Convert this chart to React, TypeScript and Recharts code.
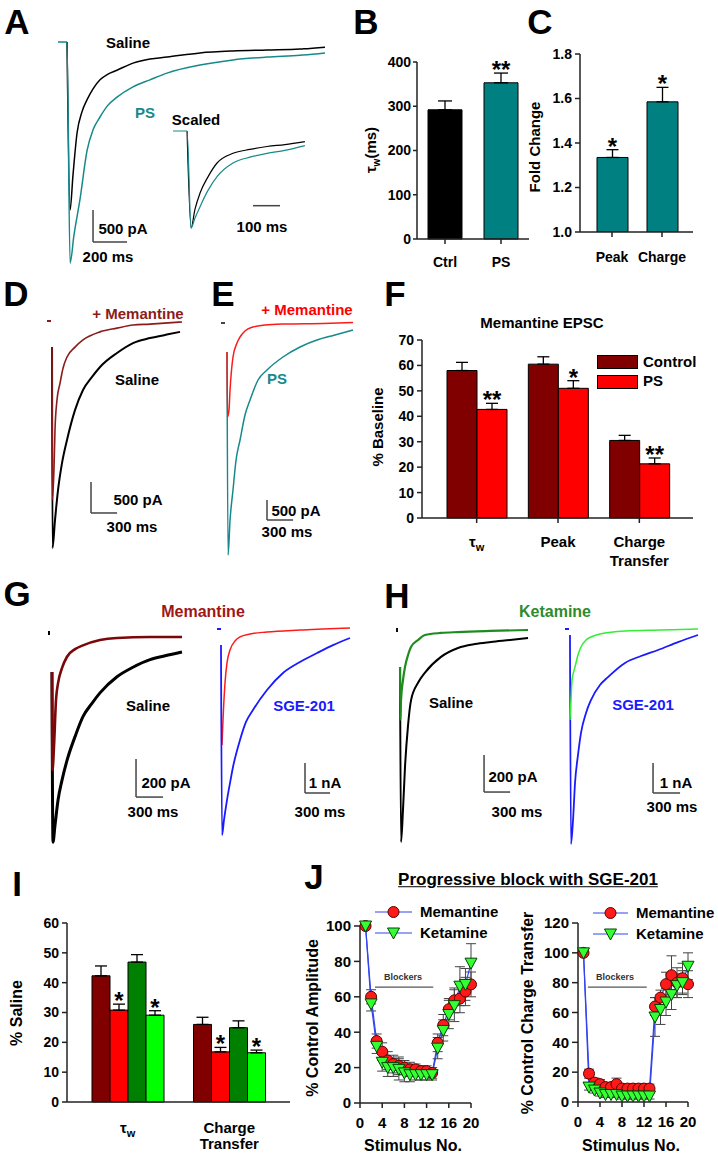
import React from "react";
import {
  BarChart, Bar, LineChart, Line, XAxis, YAxis, ErrorBar, LabelList,
  ReferenceLine, Cell
} from "recharts";

const FONT = '"Liberation Sans", Arial, Helvetica, sans-serif';

const TEAL = "#17898a";
const TEAL_BAR = "#008080";
const MAROON = "#800000";
const RED = "#ff0000";
const GREEN = "#008000";
const LIME = "#00ff00";
const BLUE = "#1a1aff";
const LINE_BLUE = "#3344ee";
const AXIS = "#222";

type Pt = [number, number];

// ---- B: weighted tau
const bCats = ["Ctrl", "PS"];
const bTau = [292, 353];
const bTauErr = [20, 22];
const bSig = ["", "**"];

// ---- C: fold change
const cCats = ["Peak", "Charge"];
const cFold = [1.335, 1.585];
const cFoldErr = [0.035, 0.065];
const cSig = ["*", "*"];

// ---- F: memantine EPSC, % baseline
const fCats = ["tau", "Peak", "Charge"];
const fControl = [58, 60.5, 30.5];
const fControlErr = [3.2, 2.9, 2.0];
const fPS = [42.7, 51, 21.3];
const fPSErr = [2.4, 3.0, 2.3];
const fSig = ["**", "*", "**"];

// ---- I: % saline
const iCats = ["tau", "Charge"];
const iMemSaline = [42.3, 26.0];
const iMemSalineErr = [3.3, 2.4];
const iMemSGE = [30.8, 16.8];
const iMemSGEErr = [2.0, 1.5];
const iKetSaline = [46.9, 24.9];
const iKetSalineErr = [2.5, 2.3];
const iKetSGE = [29.1, 16.5];
const iKetSGEErr = [1.5, 0.9];
const iSig = ["*", "*"];

// ---- J: progressive block
const stimNo = [1, 2, 3, 4, 5, 6, 7, 8, 9, 10, 11, 12, 13, 14, 15, 16, 17, 18, 19, 20];
const jAmpMem = [100, 60, 35, 29, 24, 22, 21, 20, 19, 19, 18, 18, 17, 34, 44, 53, 58, 59, 63, 67];
const jAmpMemErr = [0, 4, 4, 5, 5, 5, 5, 4, 4, 3, 3, 3, 3, 5, 6, 6, 7, 8, 8, 7];
const jAmpKet = [100, 56, 32, 23, 20, 20, 19, 17, 16, 16, 16, 16, 16, 31, 41, 50, 55, 66, 67, 79];
const jAmpKetErr = [0, 4, 4, 5, 5, 5, 6, 5, 4, 3, 3, 3, 3, 6, 6, 8, 9, 11, 9, 11];
const jChgMem = [100, 19, 13, 12, 10, 10, 12, 9, 9, 9, 9, 9, 9, 64, 70, 79, 85, 80, 83, 79];
const jChgMemErr = [0, 3, 3, 3, 3, 3, 4, 3, 3, 3, 3, 3, 3, 6, 5, 8, 13, 10, 10, 9];
const jChgKet = [100, 10, 8, 6, 5, 5, 5, 4, 4, 4, 4, 4, 4, 57, 62, 67, 72, 78, 80, 91];
const jChgKetErr = [0, 2, 2, 2, 2, 2, 2, 2, 2, 2, 2, 2, 2, 13, 10, 9, 10, 8, 8, 9];

// ---- traces, [ms, pA] (A inset in % of peak)
const aSaline: Pt[] = [[53, 0], [71, -2620], [88, -2080], [112, -1420], [141, -1090], [171, -900], [206, -730], [247, -590], [294, -500], [347, -440], [441, -330], [541, -265], [641, -235], [835, -170], [1029, -140], [1229, -125], [1423, -110], [1570, -80]];
const aPS: Pt[] = [[0, 0], [53, 0], [71, -3450], [94, -3010], [129, -2460], [171, -1690], [206, -1370], [247, -1170], [294, -985], [347, -860], [441, -700], [541, -590], [641, -485], [835, -360], [1029, -280], [1229, -235], [1423, -205], [1570, -170]];
const aSalineScaled: Pt[] = [[52, 0], [67, -100], [81, -81], [100, -64], [130, -47], [163, -33], [222, -23], [285, -19], [348, -16], [414, -14], [488, -11]];
const aPSScaled: Pt[] = [[0, 0], [52, 0], [67, -100], [81, -90], [100, -78], [130, -61], [163, -47], [222, -33], [285, -27], [348, -23], [414, -20], [488, -15]];

const dStim: Pt[] = [[-23, 0], [23, 0]];
const dMem: Pt[] = [[35, -420], [40, -2880], [58, -2350], [69, -1755], [92, -1270], [127, -1000], [161, -760], [207, -580], [299, -420], [391, -305], [587, -175], [782, -115], [966, -65], [1162, -50], [1530, -15]];
const dSaline: Pt[] = [[35, -420], [40, -3655], [69, -3205], [104, -2720], [150, -2285], [207, -1915], [299, -1435], [391, -1110], [495, -900], [587, -740], [782, -515], [966, -355], [1162, -275], [1334, -225], [1507, -175]];

const eStim: Pt[] = [[-23, 0], [23, 0]];
const eMem: Pt[] = [[46, -725], [52, -2350], [69, -2175], [81, -1675], [98, -1175], [115, -850], [161, -500], [196, -350], [253, -200], [345, -100], [483, -50], [690, -25], [1150, -10], [1495, 10]];
const ePS: Pt[] = [[46, -725], [58, -5800], [81, -4925], [115, -4175], [150, -3425], [196, -2925], [253, -2300], [311, -1925], [403, -1425], [506, -1175], [690, -850], [886, -600], [1081, -425], [1288, -300], [1495, -175]];

const gStim: Pt[] = [[-11, 0], [11, 0]];
const gMem: Pt[] = [[33, -205], [39, -720], [56, -590], [78, -350], [100, -265], [144, -185], [200, -125], [289, -85], [377, -65], [566, -37], [755, -26], [1121, -21], [1476, -21]];
const gSaline: Pt[] = [[33, -205], [44, -1100], [67, -1010], [100, -880], [144, -775], [200, -670], [289, -545], [377, -440], [477, -370], [566, -315], [755, -230], [932, -180], [1121, -140], [1288, -120], [1476, -100]];
const gSgeStim: Pt[] = [[-24, 0], [24, 0]];
const gSgeMem: Pt[] = [[36, -3865], [48, -3030], [72, -1800], [96, -1130], [132, -700], [192, -400], [252, -265], [372, -165], [576, -100], [972, -35], [1572, 35]];
const gSge: Pt[] = [[24, -535], [36, -6860], [60, -6360], [96, -5695], [132, -5130], [168, -4595], [252, -3695], [324, -3095], [408, -2695], [576, -2030], [768, -1465], [972, -1100], [1176, -800], [1368, -535], [1572, -300]];

const hStim: Pt[] = [[-11, 0], [11, 0]];
const hKet: Pt[] = [[35, -200], [40, -485], [46, -380], [69, -270], [92, -200], [127, -135], [161, -92], [242, -54], [322, -27], [506, -16], [702, -11], [1070, -5], [1507, 0]];
const hSaline: Pt[] = [[35, -200], [46, -1145], [69, -970], [92, -740], [127, -515], [161, -380], [242, -285], [322, -230], [506, -145], [702, -97], [897, -76], [1081, -65], [1300, -54], [1507, -43]];
const hSgeStim: Pt[] = [[-22, 0], [22, 0]];
const hSgeKet: Pt[] = [[33, -3030], [44, -2365], [56, -1700], [89, -1265], [122, -865], [155, -600], [211, -365], [266, -265], [366, -165], [644, -65], [1032, -35], [1454, 0]];
const hSge: Pt[] = [[33, -200], [44, -7160], [67, -6360], [89, -5130], [122, -4195], [155, -3465], [211, -2795], [266, -2365], [366, -1865], [455, -1600], [644, -1130], [821, -900], [1010, -700], [1232, -435], [1454, -200]];

// ---------- helpers
function Txt({ x, y, children, color = "#000", size = 15, rotate = 0, left = false, style = {} }: any) {
  const tr = left ? "translate(0,-50%)" : "translate(-50%,-50%)";
  return (
    <div style={{
      position: "absolute", left: x, top: y, color, fontSize: size, fontWeight: 700,
      whiteSpace: "nowrap", lineHeight: 1.15, transform: tr + (rotate ? ` rotate(${rotate}deg)` : ""),
      ...style,
    }}>{children}</div>
  );
}

function Letter({ x, y, c }: any) {
  return <Txt x={x} y={y} size={35}>{c}</Txt>;
}

function TracePanel({ box, origin, msPx, unitPx, traces, bar }: any) {
  const [l, t, w, h] = box;
  const xDom = [(l - origin[0]) * msPx, (l + w - origin[0]) * msPx];
  const yDom = [-(t + h - origin[1]) * unitPx, -(t - origin[1]) * unitPx];
  return (
    <div style={{ position: "absolute", left: l, top: t }}>
      <LineChart width={w} height={h} margin={{ top: 0, right: 0, bottom: 0, left: 0 }}>
        <XAxis type="number" dataKey="t" domain={xDom} hide allowDataOverflow />
        <YAxis type="number" domain={yDom} hide allowDataOverflow />
        {traces.map((tr: any, k: number) => (
          <Line key={k} data={tr.pts.map(([a, b]: Pt) => ({ t: a, v: b }))} dataKey="v"
            type="monotone" stroke={tr.color} strokeWidth={tr.w ?? 1.5} dot={false}
            isAnimationActive={false} />
        ))}
        {bar && bar.di !== 0 && (
          <ReferenceLine segment={[{ x: bar.t, y: bar.i }, { x: bar.t, y: bar.i + bar.di }]} stroke="#444" strokeWidth={1.5} />
        )}
        {bar && (
          <ReferenceLine segment={[{ x: bar.t, y: bar.i }, { x: bar.t + bar.dt, y: bar.i }]} stroke="#444" strokeWidth={1.5} />
        )}
      </LineChart>
    </div>
  );
}

function margins(box: number[], plot: number[], yW = 40, xH = 30) {
  return {
    left: plot[0] - box[0] - yW,
    top: plot[1] - box[1],
    right: box[0] + box[2] - plot[2],
    bottom: box[1] + box[3] - plot[3] - xH,
  };
}

function starContent(sig: string[], err: number[], pxPerUnit: number) {
  return (props: any) => {
    const vb = props.viewBox && props.viewBox.width != null ? props.viewBox : props;
    const idx = props.index;
    const s = sig[idx];
    if (!s) return null;
    const top = Number(vb.y) - err[idx] * pxPerUnit;
    return (
      <text x={Number(vb.x) + Number(vb.width) / 2} y={top + 5} textAnchor="middle"
        fontSize={24} fontWeight={700} fontFamily={FONT} fill="#000">{s}</text>
    );
  };
}

const tickFont = { fontSize: 14, fontWeight: 700, fill: "#000", fontFamily: FONT };
const axisLine = { stroke: AXIS, strokeWidth: 1.5 };

function GroupTick({ x, y, payload, off, gap }: any) {
  const v = payload.value;
  if (v === "tau") {
    return (
      <text x={x} y={y + off} textAnchor="middle" fontSize={15} fontWeight={700} fontFamily={FONT} fill="#000">
        <tspan>τ</tspan><tspan fontSize={11} dy={4}>w</tspan>
      </text>
    );
  }
  const lines = v === "Charge" ? ["Charge", "Transfer"] : [v];
  return (
    <text x={x} y={y + off} textAnchor="middle" fontSize={15} fontWeight={700} fontFamily={FONT} fill="#000">
      {lines.map((s, k) => <tspan key={k} x={x} dy={k === 0 ? 0 : gap}>{s}</tspan>)}
    </text>
  );
}

const circleDot = (p: any) => {
  if (p.cx == null || p.cy == null) return <g key={p.index} />;
  return <circle key={p.index} cx={p.cx} cy={p.cy} r={5.5} fill="#ff1a1a" stroke="#5a0000" strokeWidth={1} />;
};
const triDot = (p: any) => {
  if (p.cx == null || p.cy == null) return <g key={p.index} />;
  const { cx, cy } = p;
  return <polygon key={p.index} points={`${cx - 6},${cy - 5} ${cx + 6},${cy - 5} ${cx},${cy + 6}`} fill="#33ff33" stroke="#004400" strokeWidth={1} />;
};

function JLegend({ x0, x1, y }: any) {
  const mid = (x0 + x1) / 2;
  return (
    <>
      <svg style={{ position: "absolute", left: 0, top: 0, pointerEvents: "none" }} width={718} height={1155}>
        <line x1={x0} y1={y} x2={x1} y2={y} stroke={LINE_BLUE} strokeWidth={1.2} />
        <circle cx={mid} cy={y} r={5.5} fill="#ff1a1a" stroke="#5a0000" />
        <line x1={x0} y1={y + 21} x2={x1} y2={y + 21} stroke={LINE_BLUE} strokeWidth={1.2} />
        <polygon points={`${mid - 6},${y + 16} ${mid + 6},${y + 16} ${mid},${y + 27}`} fill="#33ff33" stroke="#004400" />
      </svg>
      <Txt x={x1 + 8} y={y} left>Memantine</Txt>
      <Txt x={x1 + 8} y={y + 21} left>Ketamine</Txt>
    </>
  );
}

export default function App() {
  // B
  const bBox = [365, 40, 170, 240];
  const bPlot = [417, 62, 529, 239];
  const bRows = bCats.map((c, k) => ({ cat: c, v: bTau[k], e: [0, bTauErr[k]] }));
  // C
  const cBox = [540, 35, 160, 245];
  const cPlot = [580, 54, 693, 232];
  const cRows = cCats.map((c, k) => ({ cat: c, v: cFold[k], e: [0, cFoldErr[k]] }));
  // F
  const fBox = [375, 330, 325, 245];
  const fPlot = [422, 340, 693, 518];
  const fRows = fCats.map((c, k) => ({
    cat: c, ctrl: fControl[k], ctrlE: [0, fControlErr[k]], ps: fPS[k], psE: [0, fPSErr[k]],
  }));
  // I
  const iBox = [20, 905, 280, 250];
  const iPlot = [67, 923, 290, 1102];
  const iRows = iCats.map((c, k) => ({
    cat: c,
    ms: iMemSaline[k], msE: [0, iMemSalineErr[k]],
    mg: iMemSGE[k], mgE: [0, iMemSGEErr[k]],
    ks: iKetSaline[k], ksE: [0, iKetSalineErr[k]],
    kg: iKetSGE[k], kgE: [0, iKetSGEErr[k]],
  }));
  const iPx = (iPlot[3] - iPlot[1]) / 60;
  // J
  const jaBox = [315, 900, 165, 250];
  const jaPlot = [360, 926, 471, 1103];
  const jcBox = [533, 900, 165, 250];
  const jcPlot = [578, 923, 688, 1102];
  const jAmpRows = stimNo.map((s, k) => ({ s, mem: jAmpMem[k], memE: jAmpMemErr[k], ket: jAmpKet[k], ketE: jAmpKetErr[k] }));
  const jChgRows = stimNo.map((s, k) => ({ s, mem: jChgMem[k], memE: jChgMemErr[k], ket: jChgKet[k], ketE: jChgKetErr[k] }));

  const barProps = { stroke: "#000", strokeWidth: 1, isAnimationActive: false };
  const errProps = { stroke: "#000", strokeWidth: 1.3, direction: "y" as const };

  return (
    <div style={{ position: "absolute", left: 0, top: 0, width: 718, height: 1155, background: "#fff", fontFamily: FONT, overflow: "hidden" }}>
      {/* ---------- A */}
      <TracePanel box={[40, 30, 300, 240]} origin={[58, 42]} msPx={5.88} unitPx={15.6}
        traces={[{ pts: aSaline, color: "#000" }, { pts: aPS, color: TEAL }]}
        bar={{ t: 206, i: -3120, dt: 200, di: 500 }} />
      <TracePanel box={[165, 120, 150, 120]} origin={[173, 131]} msPx={3.7} unitPx={1.031}
        traces={[{ pts: aSalineScaled, color: "#000", w: 1.2 }, { pts: aPSScaled, color: TEAL, w: 1.2 }]}
        bar={{ t: 296, i: -77, dt: 100, di: 0 }} />
      <Txt x={128} y={43}>Saline</Txt>
      <Txt x={145} y={113} color={TEAL}>PS</Txt>
      <Txt x={196} y={120}>Scaled</Txt>
      <Txt x={123} y={229}>500 pA</Txt>
      <Txt x={108} y={257}>200 ms</Txt>
      <Txt x={262} y={227}>100 ms</Txt>

      {/* ---------- B */}
      <div style={{ position: "absolute", left: bBox[0], top: bBox[1] }}>
        <BarChart width={bBox[2]} height={bBox[3]} data={bRows} margin={margins(bBox, bPlot)} barSize={34}>
          <XAxis dataKey="cat" tick={tickFont} axisLine={axisLine} tickLine={axisLine} tickSize={5} tickMargin={13} height={30} />
          <YAxis domain={[0, 400]} ticks={[0, 100, 200, 300, 400]} tick={tickFont} axisLine={axisLine} tickLine={axisLine} tickSize={4} tickMargin={2} width={40} />
          <Bar dataKey="v" {...barProps}>
            {bRows.map((_, k) => <Cell key={k} fill={k === 0 ? "#000" : TEAL_BAR} />)}
            <ErrorBar dataKey="e" width={7} {...errProps} />
            <LabelList dataKey="v" content={starContent(bSig, bTauErr, (bPlot[3] - bPlot[1]) / 400)} />
          </Bar>
        </BarChart>
      </div>
      <Txt x={372} y={150} rotate={-90}>τ<sub style={{ fontSize: 10 }}>w</sub>(ms)</Txt>

      {/* ---------- C */}
      <div style={{ position: "absolute", left: cBox[0], top: cBox[1] }}>
        <BarChart width={cBox[2]} height={cBox[3]} data={cRows} margin={margins(cBox, cPlot)} barSize={31}>
          <XAxis dataKey="cat" tick={tickFont} axisLine={axisLine} tickLine={axisLine} tickSize={5} tickMargin={15} height={30} padding={{ left: 7, right: 6 }} />
          <YAxis domain={[1, 1.8]} ticks={[1, 1.2, 1.4, 1.6, 1.8]} tickFormatter={(v: number) => v.toFixed(1)} tick={tickFont} axisLine={axisLine} tickLine={axisLine} tickSize={5} tickMargin={3} width={40} allowDataOverflow />
          <Bar dataKey="v" fill={TEAL_BAR} {...barProps}>
            <ErrorBar dataKey="e" width={6} {...errProps} />
            <LabelList dataKey="v" content={starContent(cSig, cFoldErr, (cPlot[3] - cPlot[1]) / 0.8)} />
          </Bar>
        </BarChart>
      </div>
      <Txt x={535} y={147} rotate={-90}>Fold Change</Txt>

      {/* ---------- D */}
      <TracePanel box={[40, 300, 160, 260]} origin={[49, 321]} msPx={11.5} unitPx={16.1}
        traces={[{ pts: dSaline, color: "#000", w: 2 }, { pts: dMem, color: "#8b1c1c", w: 1.6 }, { pts: dStim, color: "#8b1c1c", w: 2 }]}
        bar={{ t: 483, i: -3091, dt: 300, di: 500 }} />
      <Txt x={138} y={314} color="#8b1c1c">+ Memantine</Txt>
      <Txt x={137} y={380}>Saline</Txt>
      <Txt x={138} y={500}>500 pA</Txt>
      <Txt x={132} y={527}>300 ms</Txt>

      {/* ---------- E */}
      <TracePanel box={[210, 300, 160, 270]} origin={[223, 323]} msPx={11.5} unitPx={25}
        traces={[{ pts: ePS, color: TEAL }, { pts: eMem, color: "#ff1a1a" }, { pts: eStim, color: "#444", w: 2 }]}
        bar={{ t: 506, i: -4925, dt: 300, di: 500 }} />
      <Txt x={307} y={310} color={RED}>+ Memantine</Txt>
      <Txt x={277} y={379} color={TEAL}>PS</Txt>
      <Txt x={296} y={511}>500 pA</Txt>
      <Txt x={287} y={532}>300 ms</Txt>

      {/* ---------- F */}
      <div style={{ position: "absolute", left: fBox[0], top: fBox[1] }}>
        <BarChart width={fBox[2]} height={fBox[3]} data={fRows} margin={margins(fBox, fPlot)} barSize={30} barGap={0}>
          <XAxis dataKey="cat" tick={(p: any) => <GroupTick {...p} off={16} gap={19} />} axisLine={axisLine} tickLine={axisLine} tickSize={5} tickMargin={8} height={30} padding={{ left: 14, right: 13 }} interval={0} />
          <YAxis domain={[0, 70]} ticks={[0, 10, 20, 30, 40, 50, 60, 70]} tick={tickFont} axisLine={axisLine} tickLine={axisLine} tickSize={5} tickMargin={3} width={40} />
          <Bar dataKey="ctrl" fill={MAROON} {...barProps}>
            <ErrorBar dataKey="ctrlE" width={6} {...errProps} />
          </Bar>
          <Bar dataKey="ps" fill={RED} {...barProps}>
            <ErrorBar dataKey="psE" width={6} {...errProps} />
            <LabelList dataKey="ps" content={starContent(fSig, fPSErr, (fPlot[3] - fPlot[1]) / 70)} />
          </Bar>
        </BarChart>
      </div>
      <Txt x={542} y={323}>Memantine EPSC</Txt>
      <Txt x={378} y={427} rotate={-90}>% Baseline</Txt>
      <div style={{ position: "absolute", left: 597, top: 355, width: 39, height: 12, background: MAROON, border: "1px solid #000" }} />
      <div style={{ position: "absolute", left: 597, top: 375, width: 39, height: 12, background: RED, border: "1px solid #000" }} />
      <Txt x={643} y={362} left>Control</Txt>
      <Txt x={643} y={381} left>PS</Txt>

      {/* ---------- G */}
      <TracePanel box={[40, 620, 160, 230]} origin={[49, 633]} msPx={11.1} unitPx={5.26}
        traces={[{ pts: gSaline, color: "#000", w: 3 }, { pts: gMem, color: "#7a0808", w: 2.6 }, { pts: gStim, color: "#000", w: 4 }]}
        bar={{ t: 966, i: -863, dt: 300, di: 200 }} />
      <TracePanel box={[210, 620, 150, 230]} origin={[219, 629]} msPx={12} unitPx={33.3}
        traces={[{ pts: gSgeMem, color: "#ff1a1a" }, { pts: gSge, color: BLUE, w: 1.8 }, { pts: gSgeStim, color: BLUE, w: 2 }]}
        bar={{ t: 1032, i: -5461, dt: 300, di: 1000 }} />
      <Txt x={203} y={612} color="#a01515" size={16}>Memantine</Txt>
      <Txt x={148} y={706}>Saline</Txt>
      <Txt x={166} y={783}>200 pA</Txt>
      <Txt x={153} y={812}>300 ms</Txt>
      <Txt x={304} y={706} color={BLUE}>SGE-201</Txt>
      <Txt x={325} y={783}>1 nA</Txt>
      <Txt x={320} y={812}>300 ms</Txt>

      {/* ---------- H */}
      <TracePanel box={[390, 620, 150, 230]} origin={[397, 630]} msPx={11.5} unitPx={5.4}
        traces={[{ pts: hSaline, color: "#000", w: 2 }, { pts: hKet, color: "#1f8a1f", w: 2.2 }, { pts: hStim, color: "#000", w: 4 }]}
        bar={{ t: 1001, i: -875, dt: 300, di: 200 }} />
      <TracePanel box={[558, 620, 150, 235]} origin={[567, 629]} msPx={11.1} unitPx={33.3}
        traces={[{ pts: hSge, color: BLUE, w: 1.8 }, { pts: hSgeKet, color: "#33ee33", w: 1.5 }, { pts: hSgeStim, color: BLUE, w: 2 }]}
        bar={{ t: 955, i: -5461, dt: 300, di: 1000 }} />
      <Txt x={555} y={612} color="#2e8b2e" size={16}>Ketamine</Txt>
      <Txt x={451} y={703}>Saline</Txt>
      <Txt x={513} y={777}>200 pA</Txt>
      <Txt x={517} y={812}>300 ms</Txt>
      <Txt x={643} y={705} color={BLUE}>SGE-201</Txt>
      <Txt x={676} y={783}>1 nA</Txt>
      <Txt x={672} y={807}>300 ms</Txt>

      {/* ---------- I */}
      <div style={{ position: "absolute", left: iBox[0], top: iBox[1] }}>
        <BarChart width={iBox[2]} height={iBox[3]} data={iRows} margin={margins(iBox, iPlot)} barSize={18} barGap={0}>
          <XAxis dataKey="cat" tick={(p: any) => <GroupTick {...p} off={18} gap={16} />} axisLine={axisLine} tickLine={false} tickSize={5} tickMargin={8} height={30} padding={{ left: 10, right: 10 }} interval={0} />
          <YAxis domain={[0, 60]} ticks={[0, 10, 20, 30, 40, 50, 60]} tick={tickFont} axisLine={axisLine} tickLine={axisLine} tickSize={5} tickMargin={3} width={40} />
          <Bar dataKey="ms" fill={MAROON} {...barProps}>
            <ErrorBar dataKey="msE" width={6} {...errProps} />
          </Bar>
          <Bar dataKey="mg" fill={RED} {...barProps}>
            <ErrorBar dataKey="mgE" width={6} {...errProps} />
            <LabelList dataKey="mg" content={starContent(iSig, iMemSGEErr, iPx)} />
          </Bar>
          <Bar dataKey="ks" fill={GREEN} {...barProps}>
            <ErrorBar dataKey="ksE" width={6} {...errProps} />
          </Bar>
          <Bar dataKey="kg" fill={LIME} {...barProps}>
            <ErrorBar dataKey="kgE" width={6} {...errProps} />
            <LabelList dataKey="kg" content={starContent(iSig, iKetSGEErr, iPx)} />
          </Bar>
        </BarChart>
      </div>
      <Txt x={17} y={1013} rotate={-90} size={16}>% Saline</Txt>

      {/* ---------- J */}
      <Txt x={528} y={880} size={17} style={{ textDecoration: "underline" }}>Progressive block with SGE-201</Txt>
      <div style={{ position: "absolute", left: jaBox[0], top: jaBox[1] }}>
        <LineChart width={jaBox[2]} height={jaBox[3]} data={jAmpRows} margin={margins(jaBox, jaPlot)}>
          <XAxis type="number" dataKey="s" domain={[0, 20]} ticks={[0, 4, 8, 12, 16, 20]} tick={{ ...tickFont, fontSize: 15 }} axisLine={axisLine} tickLine={axisLine} tickSize={5} tickMargin={9} height={30} />
          <YAxis domain={[0, 100]} ticks={[0, 20, 40, 60, 80, 100]} tick={{ ...tickFont, fontSize: 15 }} axisLine={axisLine} tickLine={axisLine} tickSize={6} tickMargin={3} width={40} />
          <ReferenceLine segment={[{ x: 2.7, y: 65.5 }, { x: 13.2, y: 65.5 }]} stroke="#555" strokeWidth={1.2} />
          <Line dataKey="mem" type="linear" stroke={LINE_BLUE} strokeWidth={1.2} dot={circleDot} isAnimationActive={false}>
            <ErrorBar dataKey="memE" width={5} stroke="#444" strokeWidth={1} direction="y" />
          </Line>
          <Line dataKey="ket" type="linear" stroke={LINE_BLUE} strokeWidth={1.2} dot={triDot} isAnimationActive={false}>
            <ErrorBar dataKey="ketE" width={5} stroke="#444" strokeWidth={1} direction="y" />
          </Line>
        </LineChart>
      </div>
      <div style={{ position: "absolute", left: jcBox[0], top: jcBox[1] }}>
        <LineChart width={jcBox[2]} height={jcBox[3]} data={jChgRows} margin={margins(jcBox, jcPlot)}>
          <XAxis type="number" dataKey="s" domain={[0, 20]} ticks={[0, 4, 8, 12, 16, 20]} tick={{ ...tickFont, fontSize: 15 }} axisLine={axisLine} tickLine={axisLine} tickSize={5} tickMargin={9} height={30} />
          <YAxis domain={[0, 120]} ticks={[0, 20, 40, 60, 80, 100, 120]} tick={{ ...tickFont, fontSize: 15 }} axisLine={axisLine} tickLine={axisLine} tickSize={6} tickMargin={3} width={40} />
          <ReferenceLine segment={[{ x: 1.8, y: 77 }, { x: 12.5, y: 77 }]} stroke="#555" strokeWidth={1.2} />
          <Line dataKey="mem" type="linear" stroke={LINE_BLUE} strokeWidth={1.2} dot={circleDot} isAnimationActive={false}>
            <ErrorBar dataKey="memE" width={5} stroke="#444" strokeWidth={1} direction="y" />
          </Line>
          <Line dataKey="ket" type="linear" stroke={LINE_BLUE} strokeWidth={1.2} dot={triDot} isAnimationActive={false}>
            <ErrorBar dataKey="ketE" width={5} stroke="#444" strokeWidth={1} direction="y" />
          </Line>
        </LineChart>
      </div>
      <Txt x={403} y={977} size={9} color="#333">Blockers</Txt>
      <Txt x={615} y={977} size={9} color="#333">Blockers</Txt>
      <Txt x={313} y={1018} rotate={-90} size={16}>% Control Amplitude</Txt>
      <Txt x={528} y={1013} rotate={-90} size={16}>% Control Charge Transfer</Txt>
      <Txt x={413} y={1146} size={16}>Stimulus No.</Txt>
      <Txt x={631} y={1146} size={16}>Stimulus No.</Txt>
      <JLegend x0={375} x1={412} y={912} />
      <JLegend x0={593} x1={628} y={913} />

      {/* ---------- panel letters */}
      <Letter x={17} y={22} c="A" />
      <Letter x={366} y={22} c="B" />
      <Letter x={540} y={22} c="C" />
      <Letter x={16} y={294} c="D" />
      <Letter x={223} y={294} c="E" />
      <Letter x={395} y={294} c="F" />
      <Letter x={17} y={594} c="G" />
      <Letter x={397} y={596} c="H" />
      <Letter x={17} y={884} c="I" />
      <Letter x={314} y={877} c="J" />
    </div>
  );
}
